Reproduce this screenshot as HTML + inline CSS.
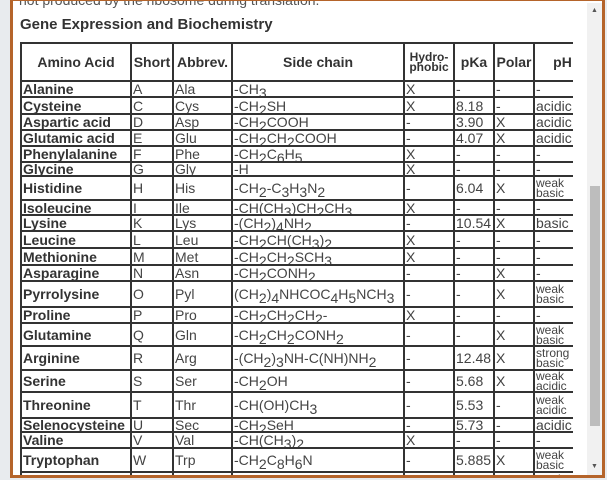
<!DOCTYPE html>
<html><head><style>
html,body{margin:0;padding:0;width:607px;height:480px;overflow:hidden;background:#e8ebee;font-family:"Liberation Sans",sans-serif;}
#frame{position:absolute;left:10px;top:-2px;width:589px;height:474px;border:3px solid #b5642a;background:#fff;overflow:hidden;}
#top{position:absolute;left:6px;top:-9px;font-size:14px;color:#555;}
#title{position:absolute;left:7px;top:15px;font-size:15px;font-weight:bold;color:#333;}
#clip{position:absolute;left:7px;top:41px;width:553px;height:440px;overflow:hidden;}
table{border-collapse:separate;border-spacing:0;table-layout:fixed;border:1px solid #333;width:570px;}
td,th{border:1px solid #333;padding:0 1px;font-size:14px;color:#444;line-height:12px;overflow:hidden;white-space:nowrap;vertical-align:middle;text-align:left;}
th{text-align:center;font-weight:bold;color:#333;}
td:first-child{font-weight:bold;color:#333;}
sub{font-size:14px;vertical-align:-4px;line-height:0;}
.s{font-size:12px;line-height:10px;}
#sb{position:absolute;left:574px;top:2px;width:15px;height:472px;background:#f1f1f1;}
#thumb{position:absolute;left:3px;top:183px;width:10px;height:240px;background:#bdbdbd;}
.ar{position:absolute;left:4px;font-size:7px;color:#555;}
</style></head><body>
<div id="frame">
<div id="top">not produced by the ribosome during translation.</div>
<div id="title">Gene Expression and Biochemistry</div>
<div id="clip"><table>
<colgroup><col style="width:110px"><col style="width:42px"><col style="width:59px"><col style="width:172px"><col style="width:50px"><col style="width:40px"><col style="width:40px"><col style="width:57px"></colgroup>
<tr style="height:38px"><th>Amino Acid</th><th>Short</th><th>Abbrev.</th><th>Side chain</th><th class="s">Hydro-<br>phobic</th><th>pKa</th><th>Polar</th><th>pH</th></tr>
<tr style="height:16px"><td>Alanine</td><td>A</td><td>Ala</td><td>-CH<sub>3</sub></td><td>X</td><td>-</td><td>-</td><td>-</td></tr>
<tr style="height:17px"><td>Cysteine</td><td>C</td><td>Cys</td><td>-CH<sub>2</sub>SH</td><td>X</td><td>8.18</td><td>-</td><td>acidic</td></tr>
<tr style="height:16px"><td>Aspartic acid</td><td>D</td><td>Asp</td><td>-CH<sub>2</sub>COOH</td><td>-</td><td>3.90</td><td>X</td><td>acidic</td></tr>
<tr style="height:16px"><td>Glutamic acid</td><td>E</td><td>Glu</td><td>-CH<sub>2</sub>CH<sub>2</sub>COOH</td><td>-</td><td>4.07</td><td>X</td><td>acidic</td></tr>
<tr style="height:16px"><td>Phenylalanine</td><td>F</td><td>Phe</td><td>-CH<sub>2</sub>C<sub>6</sub>H<sub>5</sub></td><td>X</td><td>-</td><td>-</td><td>-</td></tr>
<tr style="height:13px"><td>Glycine</td><td>G</td><td>Gly</td><td>-H</td><td>X</td><td>-</td><td>-</td><td>-</td></tr>
<tr style="height:24px"><td>Histidine</td><td>H</td><td>His</td><td>-CH<sub>2</sub>-C<sub>3</sub>H<sub>3</sub>N<sub>2</sub></td><td>-</td><td>6.04</td><td>X</td><td class="s">weak<br>basic</td></tr>
<tr style="height:15px"><td>Isoleucine</td><td>I</td><td>Ile</td><td>-CH(CH<sub>3</sub>)CH<sub>2</sub>CH<sub>3</sub></td><td>X</td><td>-</td><td>-</td><td>-</td></tr>
<tr style="height:16px"><td>Lysine</td><td>K</td><td>Lys</td><td>-(CH<sub>2</sub>)<sub>4</sub>NH<sub>2</sub></td><td>-</td><td>10.54</td><td>X</td><td>basic</td></tr>
<tr style="height:17px"><td>Leucine</td><td>L</td><td>Leu</td><td>-CH<sub>2</sub>CH(CH<sub>3</sub>)<sub>2</sub></td><td>X</td><td>-</td><td>-</td><td>-</td></tr>
<tr style="height:17px"><td>Methionine</td><td>M</td><td>Met</td><td>-CH<sub>2</sub>CH<sub>2</sub>SCH<sub>3</sub></td><td>X</td><td>-</td><td>-</td><td>-</td></tr>
<tr style="height:16px"><td>Asparagine</td><td>N</td><td>Asn</td><td>-CH<sub>2</sub>CONH<sub>2</sub></td><td>-</td><td>-</td><td>X</td><td>-</td></tr>
<tr style="height:26px"><td>Pyrrolysine</td><td>O</td><td>Pyl</td><td>(CH<sub>2</sub>)<sub>4</sub>NHCOC<sub>4</sub>H<sub>5</sub>NCH<sub>3</sub></td><td>-</td><td>-</td><td>X</td><td class="s">weak<br>basic</td></tr>
<tr style="height:16px"><td>Proline</td><td>P</td><td>Pro</td><td>-CH<sub>2</sub>CH<sub>2</sub>CH<sub>2</sub>-</td><td>X</td><td>-</td><td>-</td><td>-</td></tr>
<tr style="height:23px"><td>Glutamine</td><td>Q</td><td>Gln</td><td>-CH<sub>2</sub>CH<sub>2</sub>CONH<sub>2</sub></td><td>-</td><td>-</td><td>X</td><td class="s">weak<br>basic</td></tr>
<tr style="height:24px"><td>Arginine</td><td>R</td><td>Arg</td><td>-(CH<sub>2</sub>)<sub>3</sub>NH-C(NH)NH<sub>2</sub></td><td>-</td><td>12.48</td><td>X</td><td class="s">strong<br>basic</td></tr>
<tr style="height:22px"><td>Serine</td><td>S</td><td>Ser</td><td>-CH<sub>2</sub>OH</td><td>-</td><td>5.68</td><td>X</td><td class="s">weak<br>acidic</td></tr>
<tr style="height:26px"><td>Threonine</td><td>T</td><td>Thr</td><td>-CH(OH)CH<sub>3</sub></td><td>-</td><td>5.53</td><td>-</td><td class="s">weak<br>acidic</td></tr>
<tr style="height:13px"><td>Selenocysteine</td><td>U</td><td>Sec</td><td>-CH<sub>2</sub>SeH</td><td>-</td><td>5.73</td><td>-</td><td>acidic</td></tr>
<tr style="height:16px"><td>Valine</td><td>V</td><td>Val</td><td>-CH(CH<sub>3</sub>)<sub>2</sub></td><td>X</td><td>-</td><td>-</td><td>-</td></tr>
<tr style="height:24px"><td>Tryptophan</td><td>W</td><td>Trp</td><td>-CH<sub>2</sub>C<sub>8</sub>H<sub>6</sub>N</td><td>-</td><td>5.885</td><td>X</td><td class="s">weak<br>basic</td></tr>
<tr style="height:24px"><td>Tyrosine</td><td>Y</td><td>Tyr</td><td>-CH<sub>2</sub>-C<sub>6</sub>H<sub>4</sub>OH</td><td>-</td><td>10.46</td><td>-</td><td class="s">weak<br>acidic</td></tr>
</table></div>
<div id="sb"><div class="ar" style="top:4px">▲</div><div id="thumb"></div><div class="ar" style="top:460px">▼</div></div>
</div>
</body></html>
